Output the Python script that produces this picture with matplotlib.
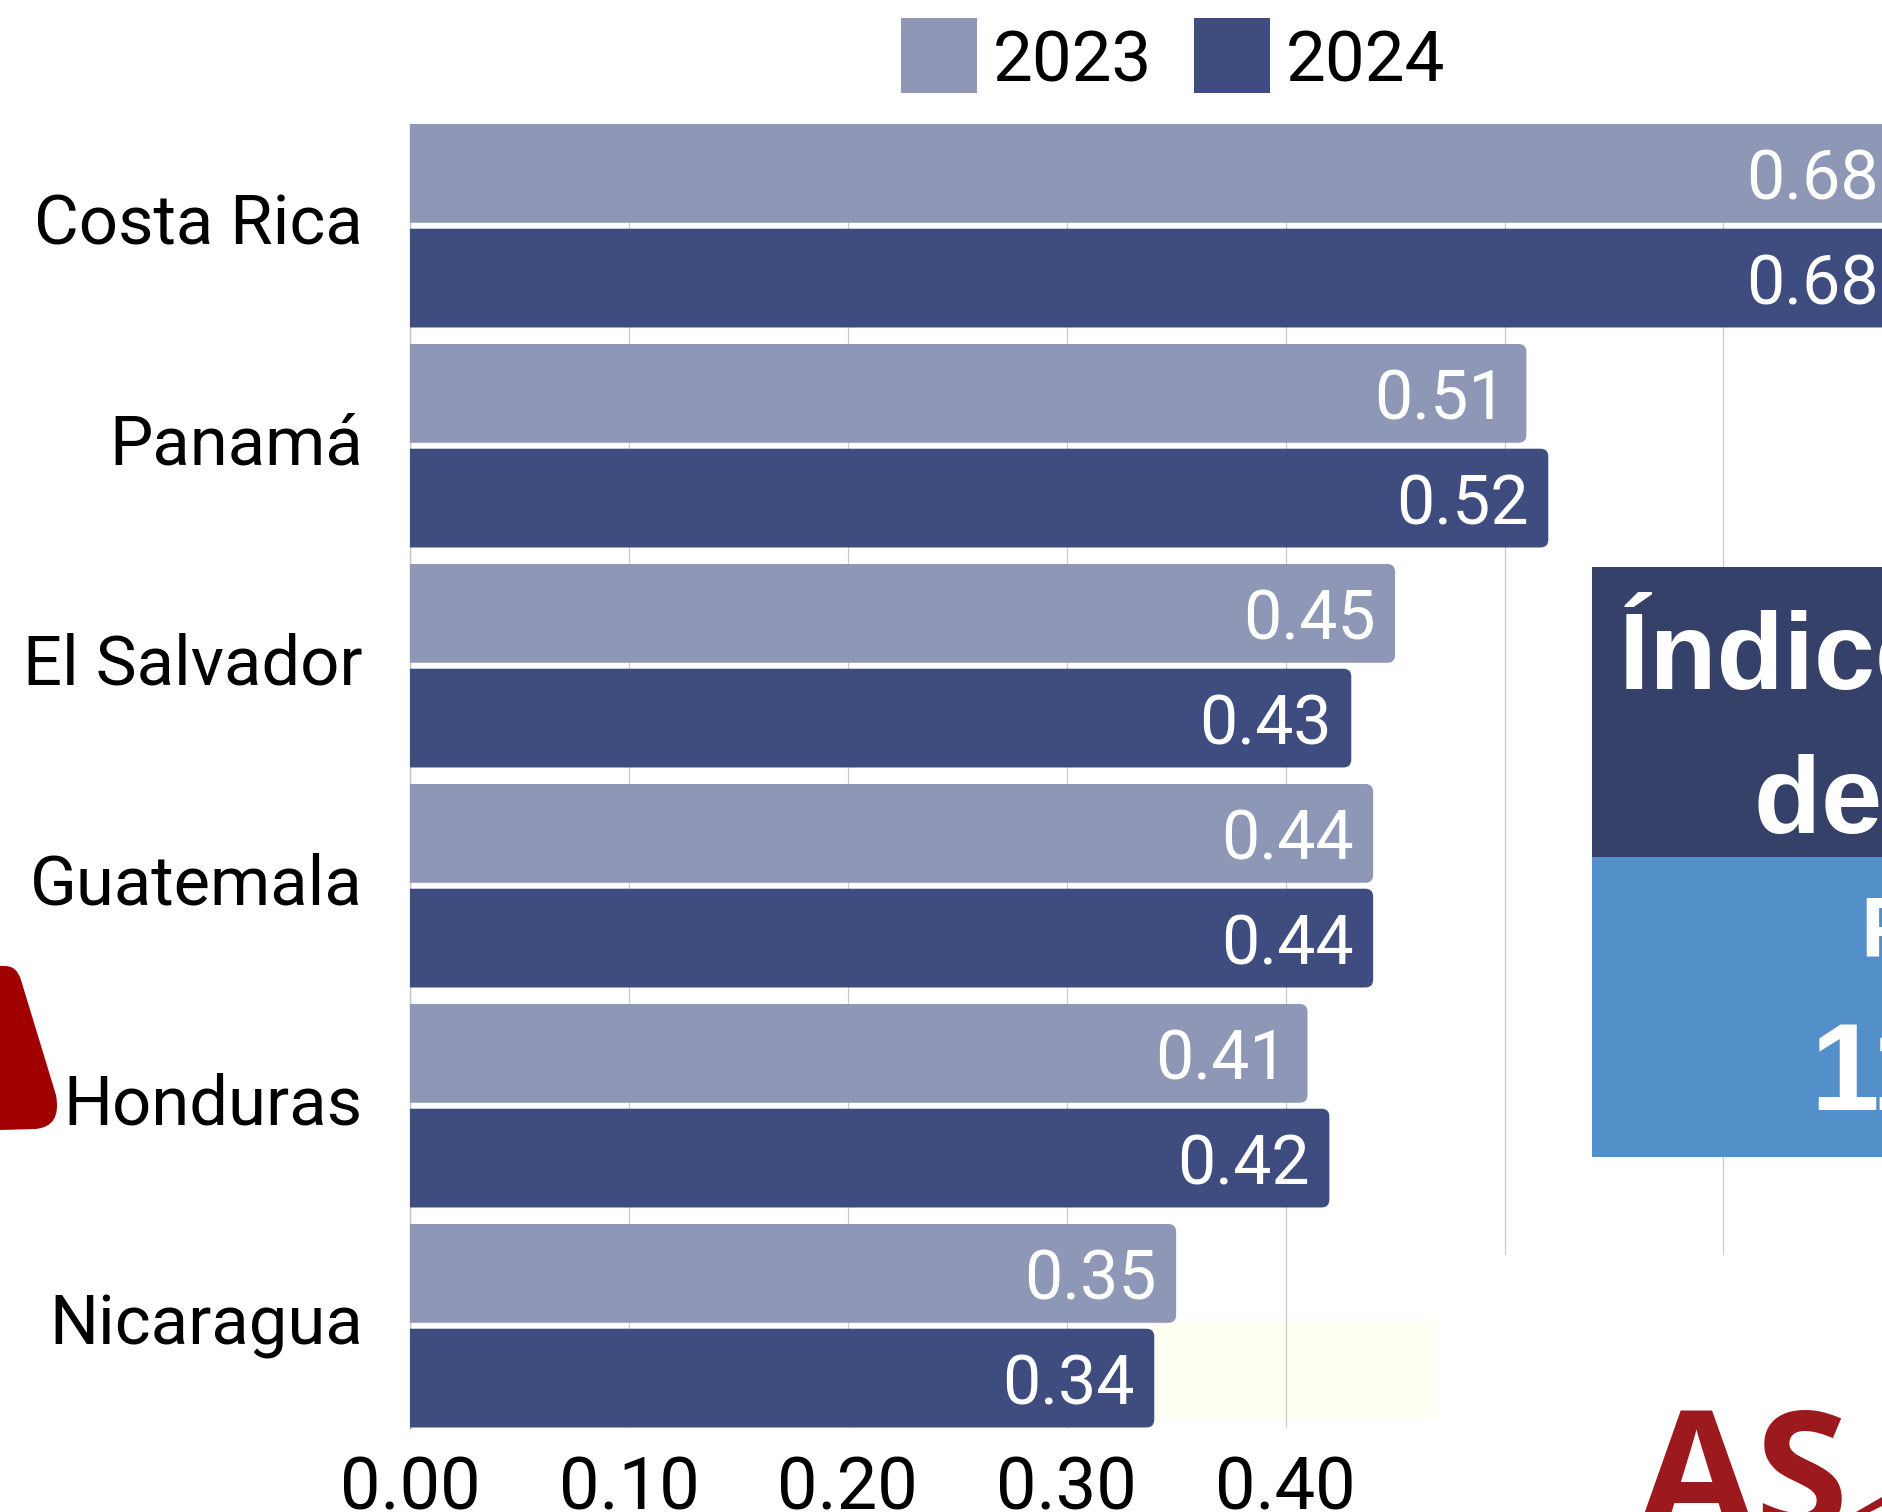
import numpy as np
import matplotlib.pyplot as plt
from matplotlib.patches import FancyBboxPatch, Rectangle, PathPatch, Polygon
from matplotlib.path import Path
from matplotlib.transforms import Affine2D

countries = ["Costa Rica", "Panamá", "El Salvador", "Guatemala", "Honduras", "Nicaragua"]
years = ["2023", "2024"]
score_2023 = [0.68, 0.51, 0.45, 0.44, 0.41, 0.35]
score_2024 = [0.68, 0.52, 0.43, 0.44, 0.42, 0.34]
x_ticks = [0.0, 0.1, 0.2, 0.3, 0.4, 0.5, 0.6]
x_labels = ["0.00", "0.10", "0.20", "0.30", "0.40", "", ""]  # last two hidden in the source

color_2023 = "#8E97B5"
color_2024 = "#3F4C7F"

W, H = 1882, 1512
plt.rcParams['font.family'] = ['Roboto', 'DejaVu Sans']
fig = plt.figure(figsize=(W / 100, H / 100), dpi=100)

# pixel transform, origin top-left (used for the infographic decorations)
pxt = Affine2D().scale(1, -1).translate(0, H)

# axes placement
left_px, top_px, bot_px = 410, 124, 1427.5
px_per_unit = 2189
xmax = 0.72
ax = fig.add_axes([left_px / W, 1 - bot_px / H, xmax * px_per_unit / W, (bot_px - top_px) / H])
ax.set_facecolor("none")

ypos = np.arange(len(countries))
off = 0.238
bh = 0.449
ax.set_xlim(0, xmax)
ax.set_ylim(len(countries) - 1 + off + bh / 2, -off - bh / 2)

# aspect for rounded corners (y units per pixel / x units per pixel)
y_per_px = (len(countries) - 1 + 2 * off + bh) / (bot_px - top_px)
x_per_px = 1 / px_per_unit
aspect = y_per_px / x_per_px


def draw_bars(yc, vals, color):
    bars = ax.barh(yc, vals, height=bh, color=color, zorder=3)
    for r, v in zip(bars, vals):
        r.remove()
        p = FancyBboxPatch((-0.01, r.get_y()), r.get_width() + 0.01, r.get_height(),
                           boxstyle="round,pad=0,rounding_size=0.0036",
                           mutation_aspect=aspect, fc=color, ec="none", zorder=3)
        ax.add_patch(p)
        ax.annotate(f"{v:.2f}", xy=(v, r.get_y() + r.get_height() / 2), xytext=(-14, 0),
                    textcoords="offset points", ha="right", va="center_baseline",
                    color="white", fontsize=49, zorder=4)


draw_bars(ypos - off, score_2023, color_2023)
draw_bars(ypos + off, score_2024, color_2024)

ax.set_xticks(x_ticks, x_labels)
ax.set_yticks(ypos, countries)
ax.tick_params(axis="x", length=0, pad=20, labelsize=52, colors="black")
ax.tick_params(axis="y", length=0, pad=34, labelsize=49.5, colors="black")
for t in ax.get_yticklabels():
    t.set_va("center")
ax.xaxis.grid(True, color="#CACACA", lw=0.9)
ax.set_axisbelow(True)
for s in ["top", "right", "bottom"]:
    ax.spines[s].set_visible(False)
ax.spines["left"].set_color("#777777")
ax.spines["left"].set_linewidth(0.9)
ax.spines["left"].set_zorder(0.5)

# legend
for x, name, c in [(901, years[0], color_2023), (1194, years[1], color_2024)]:
    fig.add_artist(Rectangle((x, 18), 76, 75, fc=c, ec="none", transform=pxt))
    fig.text(x + 92, 82, name, transform=pxt, fontsize=51, va="baseline", ha="left")

# faint background panel near the bottom
fig.add_artist(Rectangle((1153, 1320), 284, 98, fc="#FFFFF3", ec="none", transform=pxt, zorder=-1))
# white area covering the lower right of the chart
fig.add_artist(Rectangle((1437, 1255), 450, 260, fc="white", ec="none", transform=pxt, zorder=5))

# info box
fig.add_artist(Rectangle((1592, 567), 300, 290, fc="#36416A", ec="none", transform=pxt, zorder=6))
fig.add_artist(Rectangle((1592, 857), 300, 300, fc="#5390C9", ec="none", transform=pxt, zorder=6))
box_font = dict(family=["Liberation Sans", "DejaVu Sans"], weight="bold", color="white",
                transform=pxt, va="baseline", ha="left", zorder=7)
fig.text(1619, 689, "Índice de Estado", fontsize=79, **box_font)
fig.text(1754, 833, "de Derecho", fontsize=79, **box_font)
fig.text(1860, 957, "Posición", fontsize=62, **box_font)
fig.text(1810, 1110, "11", fontsize=89, **box_font)

# red shape at left edge
verts = [(0, 966), (5, 966), (17, 966), (21, 980), (56, 1095), (62, 1127), (35, 1129), (0, 1130), (0, 966)]
codes = [Path.MOVETO, Path.LINETO, Path.CURVE3, Path.CURVE3, Path.LINETO, Path.CURVE3, Path.CURVE3,
         Path.LINETO, Path.CLOSEPOLY]
fig.add_artist(PathPatch(Path(verts, codes), fc="#A00000", ec="none", transform=pxt, zorder=6))

# logo text and swoosh
logo_red = "#9C1A1E"
fig.text(1638, 1532, "AS", transform=pxt, family=["Open Sans", "DejaVu Sans"], weight="bold",
         fontsize=122, color=logo_red, va="baseline", ha="left", zorder=7)
fig.add_artist(Polygon([(1856, 1512), (1882, 1497), (1882, 1506), (1870, 1512)], closed=True,
                       fc=logo_red, ec="none", transform=pxt, zorder=7))

fig.savefig("out.png", dpi=100)
